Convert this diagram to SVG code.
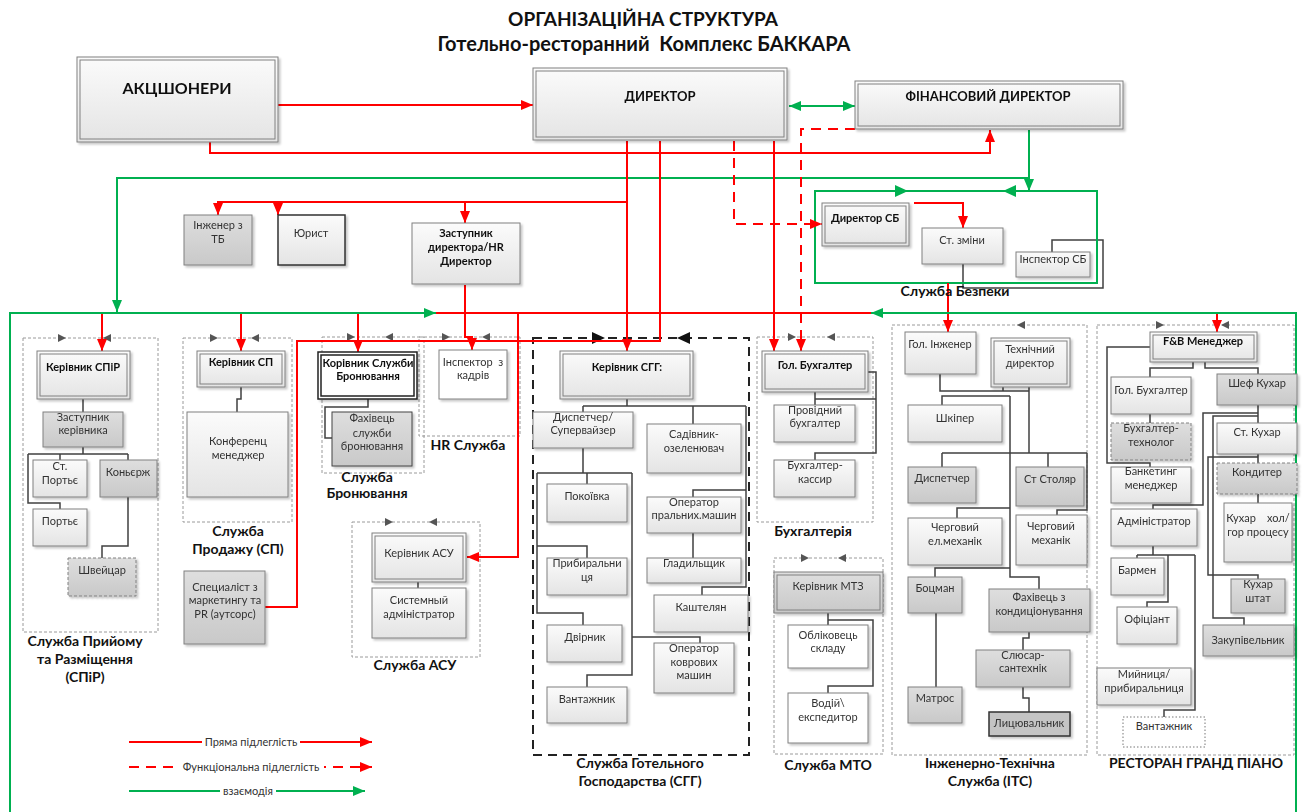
<svg xmlns="http://www.w3.org/2000/svg" width="1302" height="812" viewBox="0 0 1302 812">
<style>
.bg{fill:#fff}
.n{fill:url(#gl);stroke:#808080;stroke-width:1}
.ng{fill:url(#gg);stroke:#808080;stroke-width:1}
.nd{stroke-dasharray:3 2}
.nw{fill:#fff;stroke:#808080;stroke-width:1}
.in{fill:none;stroke:#808080;stroke-width:1}
.t{font-family:Lato,"Liberation Sans",sans-serif;font-size:11px;fill:#333;text-anchor:middle}
.b{font-weight:bold;fill:#111}
.lb{font-family:Lato,"Liberation Sans",sans-serif;font-size:14px;font-weight:bold;fill:#111;text-anchor:middle}
.ttl{font-family:Lato,"Liberation Sans",sans-serif;font-size:19px;font-weight:bold;fill:#111;text-anchor:middle}
.ctr{fill:none;stroke:#9a9a9a;stroke-width:1;stroke-dasharray:3 2}
.ca{fill:#555}
.k{fill:none;stroke:#404040;stroke-width:1.5}
.r{fill:none;stroke:#ff0000;stroke-width:2}
.rd{stroke-dasharray:10 7}
.g{fill:none;stroke:#00b050;stroke-width:2}
.sh{filter:url(#sh)}
</style>
<defs>
<linearGradient id="gl" x1="0" y1="0" x2="0" y2="1"><stop offset="0" stop-color="#fbfbfb"/><stop offset="1" stop-color="#e4e4e4"/></linearGradient>
<linearGradient id="gg" x1="0" y1="0" x2="0" y2="1"><stop offset="0" stop-color="#dedede"/><stop offset="1" stop-color="#c9c9c9"/></linearGradient>
<filter id="sh" x="-10%" y="-10%" width="130%" height="130%"><feDropShadow dx="2" dy="2" stdDeviation="1" flood-color="#000" flood-opacity="0.22"/></filter>
<marker id="ar" markerUnits="userSpaceOnUse" markerWidth="12" markerHeight="10" refX="12" refY="5" orient="auto"><path d="M0,0 L12,5 L0,10 z" fill="#ff0000"/></marker>
<marker id="ag" markerUnits="userSpaceOnUse" markerWidth="12" markerHeight="10" refX="12" refY="5" orient="auto-start-reverse"><path d="M0,0 L12,5 L0,10 z" fill="#00b050"/></marker>
</defs>
<rect class="bg" x="0" y="0" width="1302" height="812"/>

<g id="title">
<text class="ttl" x="643" y="26">ОРГАНІЗАЦІЙНА СТРУКТУРА</text>
<text class="ttl" x="644" y="51" style="font-size:20px" xml:space="preserve">Готельно-ресторанний  Комплекс БАККАРА</text>
</g>

<g id="containers">
<rect class="ctr" x="23" y="338" width="135" height="294"/>
<rect class="ctr" x="183" y="338" width="109" height="184"/>
<rect class="ctr" x="322" y="337" width="102" height="136"/>
<rect class="ctr" x="419" y="337" width="101" height="99"/>
<rect class="ctr" x="352" y="522" width="128" height="135"/>
<rect class="ctr" x="757" y="337" width="116" height="185"/>
<rect class="ctr" x="774" y="558" width="109" height="196"/>
<rect class="ctr" x="892" y="325" width="195" height="430"/>
<rect class="ctr" x="1097" y="325" width="197" height="430"/>
<rect x="533" y="338" width="216" height="417" fill="none" stroke="#222" stroke-width="2" stroke-dasharray="9 6"/>
<g class="ca">
<path d="M66,338 l-8,-4 v8 z M103,338 l8,-4 v8 z"/>
<path d="M218,338 l-8,-4 v8 z M251,338 l8,-4 v8 z"/>
<path d="M355,337 l-8,-4 v8 z M385,337 l8,-4 v8 z"/>
<path d="M450,337 l-8,-4 v8 z M482,337 l8,-4 v8 z"/>
<path d="M393,522 l-8,-4 v8 z M429,522 l8,-4 v8 z"/>
<path d="M796,337 l-8,-4 v8 z M827,337 l8,-4 v8 z"/>
<path d="M809,558 l-8,-4 v8 z M838,558 l8,-4 v8 z"/>
<path d="M1017,325 l8,-4 v8 z"/>
<path d="M1164,325 l-8,-4 v8 z M1221,325 l8,-4 v8 z"/>
</g>
<path d="M605,338 l-13,-6 v12 z M677,338 l13,-6 v12 z" fill="#111"/>
</g>

<g id="connectors">
<path class="k" d="M83,399 V412 M83,447 V454 M28,454 H128 M60,454 V460 M128,454 V460 M28,454 V503 H60 V509 M128,497 V546 H102 V558"/>
<path class="k" d="M241,387 V399 H237 V412"/>
<path class="k" d="M368,399 V407 H325 V438 H332"/>
<path class="k" d="M418,582 V588"/>
<path class="k" d="M627,399 V406 M583,406 H746 M583,406 V412 M693,406 V424 M746,406 V587 H702 V595 M746,490 H693 V497 M693,533 V558"/>
<path class="k" d="M583,448 V473 M537,473 H632 M587,473 V484 M537,473 V613 H583 V625 M537,546 H587 V558 M632,473 V675 H587 V687 M632,637 H700 V643"/>
<path class="k" d="M815,392 V405 M815,399 H876 M868,372 H876 V453 H815 V460"/>
<path class="k" d="M828,613 V625 M828,620 H873 V686 H828 V693"/>
<path class="k" d="M940,374 V391 H1029 M1003,387 V391 M942,405 V396 H1010 M942,453 H1087 M942,453 V467 M1048,453 V467 M1087,453 V510 H1057 V515 M1010,396 V577 H1039 V589 M1010,508 H957 V518 M1010,568 H935 V577 M936,613 V687 M1029,632 V638 H1023 V650 M1023,687 V698 H1029 V712"/>
<path class="k" stroke-width="2.5" d="M1029,387 V453"/>
<path class="k" d="M963,264 V288 H1103 V240 H1052 V252"/>
<path class="k" d="M1150,347 H1107 V463 H1150 V467 M1193,362 V368 H1150 V377 M1205,362 V368 H1258 V374 M1150,414 V423 M1258,405 V423 M1258,413 H1203 V505 H1153 V509 M1258,416 H1213 V618 H1244 V625 M1258,454 V463 M1258,457 H1208 V575 H1258 V579 M1258,494 V503"/>
<path class="k" d="M1153,546 V555 M1137,555 H1195 M1137,555 V558 M1168,555 V602 H1147 V607 M1195,555 V710 H1164 V717"/>

<path class="g" d="M815,191 H1097 V283 H815 Z"/>
<path d="M908,191 l-13,-6 v12 z M1003,191 l13,-6 v12 z" fill="#00b050"/>
<path class="g" d="M1029,130 V191" marker-end="url(#ag)"/>
<path class="g" d="M1029,178 H117 V312" marker-end="url(#ag)"/>
<path class="g" d="M789,106 H855" marker-start="url(#ag)" marker-end="url(#ag)"/>

<path class="r" d="M278,105 H533" marker-end="url(#ar)"/>
<path class="r" d="M210,142 V153 H990 V130" marker-end="url(#ar)"/>
<path class="r" d="M627,141 V351" marker-end="url(#ar)"/>
<path class="r" d="M627,202 H218 V215" marker-end="url(#ar)"/>
<path class="r" d="M278,202 V215" marker-end="url(#ar)"/>
<path class="r" d="M465,202 V223" marker-end="url(#ar)"/>
<path class="r" d="M102,313 H871"/>
<path class="r" d="M871,313 H1217"/>
<path class="r" d="M102,313 V351" marker-end="url(#ar)"/>
<path class="r" d="M241,313 V351" marker-end="url(#ar)"/>
<path class="r" d="M358,313 V352" marker-end="url(#ar)"/>
<path class="r" d="M660,141 V341 H297 V607 H265"/>
<path class="r" d="M518,313 V557 H467" marker-end="url(#ar)"/>
<path class="r" d="M465,285 V337 H472 V350" marker-end="url(#ar)"/>
<path class="r" d="M774,141 V351" marker-end="url(#ar)"/>
<path class="r" d="M948,283 V332" marker-end="url(#ar)"/>
<path class="r" d="M1217,313 V332" marker-end="url(#ar)"/>
<path class="r" d="M914,203 H963 V228" marker-end="url(#ar)"/>
<path class="r rd" d="M734,141 V224 H822" marker-end="url(#ar)"/>
<path class="r rd" d="M855,129 H801 V351" marker-end="url(#ar)"/>

<path class="g" d="M10,812 V313 H436" marker-end="url(#ag)"/>
<path class="g" d="M1296,812 V313 H871" marker-end="url(#ag)"/>
</g>

<g id="n-akc" class="sh"><rect class="n" x="77" y="57" width="201" height="85"/><rect class="in" x="80" y="60" width="195" height="79"/><text class="t b" x="177" y="94" style="font-size:16px">АКЦШОНЕРИ</text></g>
<g id="n-dir" class="sh"><rect class="n" x="533" y="68" width="254" height="72"/><rect class="in" x="536" y="71" width="248" height="66"/><text class="t b" x="660" y="101" style="font-size:13px">ДИРЕКТОР</text></g>
<g id="n-fin" class="sh"><rect class="n" x="855" y="81" width="268" height="48"/><rect class="in" x="858" y="84" width="262" height="42"/><text class="t b" x="988" y="101" style="font-size:13px">ФІНАНСОВИЙ ДИРЕКТОР</text></g>
<g id="n-tb" class="sh"><rect class="ng" x="184" y="215" width="68" height="50"/><text class="t" x="218" y="229">Інженер з</text><text class="t" x="218" y="243">ТБ</text></g>
<g id="n-jur" class="sh"><rect class="n" x="278" y="215" width="67" height="50" style="stroke:#333;stroke-width:1.5"/><text class="t" x="311" y="237">Юрист</text></g>
<g id="n-hr" class="sh"><rect class="n" x="412" y="223" width="108" height="61"/><text class="t b" x="466" y="237">Заступник</text><text class="t b" x="466" y="251">директора/HR</text><text class="t b" x="466" y="265">Директор</text></g>

<g id="n-dsb" class="sh"><rect class="n" x="822" y="203" width="87" height="43"/><rect class="in" x="825" y="206" width="81" height="37"/><text class="t b" x="865" y="222">Директор СБ</text></g>
<g id="n-stz" class="sh"><rect class="n" x="922" y="228" width="81" height="36"/><text class="t" x="962" y="244">Ст. зміни</text></g>
<g id="n-isb" class="sh"><rect class="n" x="1016" y="252" width="74" height="25"/><text class="t" x="1053" y="263">Інспектор СБ</text></g>
<text class="lb" x="955" y="296">Служба Безпеки</text>

<g id="n-kspir" class="sh"><rect class="n" x="37" y="351" width="93" height="48"/><rect class="in" x="40" y="354" width="87" height="42"/><text class="t b" x="83" y="371">Керівник СПіР</text></g>
<g id="n-zast" class="sh"><rect class="ng" x="43" y="412" width="80" height="35"/><text class="t" x="83" y="421">Заступник</text><text class="t" x="83" y="434">керівника</text></g>
<g id="n-stport" class="sh"><rect class="n" x="33" y="460" width="54" height="37"/><text class="t" x="60" y="470">Ст.</text><text class="t" x="60" y="484">Портьє</text></g>
<g id="n-kon" class="sh"><rect class="ng" x="100" y="460" width="57" height="37"/><text class="t" x="128" y="476">Коньєрж</text></g>
<g id="n-port" class="sh"><rect class="n" x="33" y="509" width="54" height="37"/><text class="t" x="60" y="525">Портьє</text></g>
<g id="n-shv" class="sh"><rect class="ng nd" x="68" y="558" width="68" height="38"/><text class="t" x="102" y="574">Швейцар</text></g>
<text class="lb" x="85" y="646">Служба Прийому</text>
<text class="lb" x="85" y="664">та Разміщення</text>
<text class="lb" x="85" y="682">(СПіР)</text>

<g id="n-ksp" class="sh"><rect class="n" x="197" y="351" width="88" height="36"/><rect class="in" x="200" y="354" width="82" height="30"/><text class="t b" x="241" y="366">Керівник СП</text></g>
<g id="n-konf" class="sh"><rect class="n" x="187" y="412" width="101" height="85"/><text class="t" x="238" y="445">Конференц</text><text class="t" x="238" y="459">менеджер</text></g>
<text class="lb" x="238" y="536">Служба</text>
<text class="lb" x="238" y="554">Продажу (СП)</text>
<g id="n-mark" class="sh"><rect class="ng" x="184" y="571" width="81" height="73"/><text class="t" x="225" y="591">Специаліст з</text><text class="t" x="225" y="604">маркетингу та</text><text class="t" x="225" y="618">PR (аутсорс)</text></g>

<g id="n-kbron" class="sh"><rect x="318" y="352" width="99" height="47" fill="#fff" stroke="#222" stroke-width="1.5"/><rect x="321" y="355" width="93" height="41" fill="none" stroke="#222" stroke-width="1.5"/><text class="t b" x="368" y="367">Корівник Служби</text><text class="t b" x="368" y="380">Бронювання</text></g>
<g id="n-fbron" class="sh"><rect class="ng" x="332" y="412" width="80" height="54" style="stroke:#444"/><text class="t" x="372" y="422">Фахівець</text><text class="t" x="372" y="437">служби</text><text class="t" x="372" y="450">бронювання</text></g>
<text class="lb" x="367" y="482">Служба</text>
<text class="lb" x="367" y="498">Бронювання</text>
<g id="n-ink" class="sh"><rect class="nw" x="439" y="350" width="68" height="49"/><text class="t" x="473" y="366" xml:space="preserve">Інспектор  з</text><text class="t" x="473" y="379">кадрів</text></g>
<text class="lb" x="468" y="450">HR Служба</text>

<g id="n-kasu" class="sh"><rect class="n" x="372" y="533" width="94" height="49"/><rect class="in" x="375" y="536" width="88" height="43"/><text class="t" x="419" y="557">Керівник АСУ</text></g>
<g id="n-sysadm" class="sh"><rect class="n" x="372" y="588" width="94" height="50"/><text class="t" x="419" y="604">Системный</text><text class="t" x="419" y="618">адміністратор</text></g>
<text class="lb" x="415" y="670">Служба АСУ</text>

<g id="n-ksgg" class="sh"><rect class="n" x="560" y="351" width="133" height="48"/><rect class="in" x="563" y="354" width="127" height="42"/><text class="t b" x="627" y="371">Керівник СГГ:</text></g>
<g id="n-disp" class="sh"><rect class="n" x="533" y="412" width="100" height="36"/><text class="t" x="583" y="421">Диспетчер/</text><text class="t" x="583" y="434">Супервайзер</text></g>
<g id="n-sad" class="sh"><rect class="n" x="647" y="424" width="94" height="49"/><text class="t" x="694" y="438">Садівник-</text><text class="t" x="694" y="452">озеленювач</text></g>
<g id="n-pok" class="sh"><rect class="n" x="547" y="484" width="80" height="38"/><text class="t" x="587" y="500">Покоївка</text></g>
<g id="n-prib" class="sh"><rect class="n" x="547" y="558" width="80" height="37"/><text class="t" x="587" y="567">Прибиральни</text><text class="t" x="587" y="581">ця</text></g>
<g id="n-dvir" class="sh"><rect class="n" x="547" y="625" width="75" height="37"/><text class="t" x="585" y="641">Двірник</text></g>
<g id="n-vant1" class="sh"><rect class="n" x="547" y="687" width="80" height="36"/><text class="t" x="587" y="703">Вантажник</text></g>
<g id="n-opral" class="sh"><rect class="n" x="647" y="497" width="94" height="36"/><text class="t" x="694" y="506">Оператор</text><text class="t" x="694" y="519">пральних.машин</text></g>
<g id="n-glad" class="sh"><rect class="n" x="647" y="558" width="94" height="25"/><text class="t" x="694" y="567">Гладильщик</text></g>
<g id="n-kasht" class="sh"><rect class="n" x="654" y="595" width="94" height="37"/><text class="t" x="701" y="611">Каштелян</text></g>
<g id="n-okov" class="sh"><rect class="n" x="654" y="643" width="80" height="50"/><text class="t" x="694" y="652">Оператор</text><text class="t" x="694" y="666">коврових</text><text class="t" x="694" y="679">машин</text></g>
<text class="lb" x="640" y="768">Служба Готельного</text>
<text class="lb" x="640" y="786">Господарства (СГГ)</text>

<g id="n-gbuh" class="sh"><rect class="n" x="762" y="351" width="106" height="41"/><rect class="in" x="765" y="354" width="100" height="35"/><text class="t b" x="815" y="369">Гол. Бухгалтер</text></g>
<g id="n-pbuh" class="sh"><rect class="n" x="774" y="405" width="81" height="37"/><text class="t" x="815" y="414">Провідний</text><text class="t" x="815" y="427">бухгалтер</text></g>
<g id="n-bkas" class="sh"><rect class="n" x="774" y="460" width="81" height="37"/><text class="t" x="815" y="469">Бухгалтер-</text><text class="t" x="815" y="483">кассир</text></g>
<text class="lb" x="813" y="536">Бухгалтерія</text>

<g id="n-kmtz" class="sh"><rect class="n" x="774" y="572" width="109" height="41" style="fill:url(#gg)"/><rect class="in" x="777" y="575" width="103" height="35"/><text class="t" x="828" y="590">Керівник МТЗ</text></g>
<g id="n-obl" class="sh"><rect class="nw" x="788" y="625" width="80" height="43"/><text class="t" x="828" y="639">Обліковець</text><text class="t" x="828" y="652">складу</text></g>
<g id="n-vod" class="sh"><rect class="nw" x="788" y="693" width="80" height="50"/><text class="t" x="828" y="707">Водій\</text><text class="t" x="828" y="721">експедитор</text></g>
<text class="lb" x="828" y="770">Служба МТО</text>

<g id="n-ging" class="sh"><rect class="n" x="905" y="332" width="71" height="42"/><text class="t" x="940" y="348">Гол. Інженер</text></g>
<g id="n-tdir" class="sh"><rect class="n" x="991" y="338" width="79" height="49"/><rect class="in" x="994" y="341" width="73" height="43"/><text class="t" x="1030" y="353">Технічний</text><text class="t" x="1030" y="367">директор</text></g>
<g id="n-shkip" class="sh"><rect class="n" x="908" y="405" width="94" height="37"/><text class="t" x="955" y="422">Шкіпер</text></g>
<g id="n-disp2" class="sh"><rect class="ng" x="908" y="467" width="68" height="36"/><text class="t" x="942" y="482">Диспетчер</text></g>
<g id="n-stol" class="sh"><rect class="ng" x="1016" y="467" width="68" height="39"/><text class="t" x="1050" y="483">Ст Столяр</text></g>
<g id="n-cherel" class="sh"><rect class="n" x="908" y="518" width="94" height="47"/><text class="t" x="955" y="531">Черговий</text><text class="t" x="955" y="545">ел.механік</text></g>
<g id="n-chmeh" class="sh"><rect class="n" x="1016" y="515" width="71" height="50"/><text class="t" x="1051" y="530">Черговий</text><text class="t" x="1051" y="544">механік</text></g>
<g id="n-bots" class="sh"><rect class="ng" x="908" y="577" width="54" height="36"/><text class="t" x="935" y="592">Боцман</text></g>
<g id="n-kond" class="sh"><rect class="ng" x="989" y="589" width="101" height="43"/><text class="t" x="1039" y="601">Фахівець з</text><text class="t" x="1039" y="615">кондиціонування</text></g>
<g id="n-slus" class="sh"><rect class="ng" x="976" y="650" width="94" height="37"/><text class="t" x="1023" y="659">Слюсар-</text><text class="t" x="1023" y="672">сантехнік</text></g>
<g id="n-matr" class="sh"><rect class="ng" x="908" y="687" width="54" height="36"/><text class="t" x="935" y="702">Матрос</text></g>
<g id="n-lyts" class="sh"><rect x="989" y="712" width="81" height="24" fill="#c4c4c4" stroke="#333" stroke-width="1.5"/><text class="t" x="1029" y="727">Лицювальник</text></g>
<text class="lb" x="990" y="768">Інженерно-Технічна</text>
<text class="lb" x="990" y="786">Служба (ІТС)</text>

<g id="n-fb" class="sh"><rect class="n" x="1150" y="332" width="107" height="30"/><rect class="in" x="1153" y="335" width="101" height="24"/><text class="t b" x="1203" y="345">F&amp;B Менеджер</text></g>
<g id="n-gbuh2" class="sh"><rect class="n" x="1111" y="377" width="80" height="37"/><text class="t" x="1151" y="394">Гол. Бухгалтер</text></g>
<g id="n-btech" class="sh"><rect class="ng nd" x="1111" y="423" width="80" height="37"/><text class="t" x="1151" y="432">Бухгалтер-</text><text class="t" x="1151" y="446">технолог</text></g>
<g id="n-bank" class="sh"><rect class="n" x="1111" y="467" width="80" height="36"/><text class="t" x="1151" y="475">Банкетинг</text><text class="t" x="1151" y="489">менеджер</text></g>
<g id="n-adm" class="sh"><rect class="n" x="1111" y="509" width="86" height="37"/><text class="t" x="1154" y="525">Адміністратор</text></g>
<g id="n-barm" class="sh"><rect class="n" x="1111" y="558" width="53" height="37"/><text class="t" x="1137" y="574">Бармен</text></g>
<g id="n-ofic" class="sh"><rect class="n" x="1117" y="607" width="60" height="37"/><text class="t" x="1147" y="623">Офіціант</text></g>
<g id="n-myin" class="sh"><rect class="n" x="1097" y="668" width="94" height="37"/><text class="t" x="1144" y="678">Мийниця/</text><text class="t" x="1144" y="692">прибиральниця</text></g>
<g id="n-vant2"><rect x="1123" y="717" width="82" height="30" fill="#fff" stroke="#777" stroke-width="1" stroke-dasharray="1.5 2"/><text class="t" x="1164" y="730">Вантажник</text></g>
<g id="n-shef" class="sh"><rect class="ng" x="1217" y="374" width="80" height="31"/><text class="t" x="1257" y="387">Шеф Кухар</text></g>
<g id="n-stkuh" class="sh"><rect class="n" x="1217" y="423" width="80" height="31"/><text class="t" x="1257" y="436">Ст. Кухар</text></g>
<g id="n-kondyt" class="sh"><rect class="ng nd" x="1217" y="463" width="80" height="31"/><text class="t" x="1257" y="476">Кондитер</text></g>
<g id="n-khol" class="sh"><rect class="n" x="1224" y="503" width="68" height="59"/><text class="t" x="1258" y="522" xml:space="preserve">Кухар    хол/</text><text class="t" x="1258" y="536">гор процесу</text></g>
<g id="n-kshtat" class="sh"><rect class="ng" x="1231" y="579" width="54" height="34"/><text class="t" x="1258" y="588">Кухар</text><text class="t" x="1258" y="602">штат</text></g>
<g id="n-zakup" class="sh"><rect class="ng" x="1203" y="625" width="91" height="31"/><text class="t" x="1248" y="644">Закупівельник</text></g>
<text class="lb" x="1196" y="768">РЕСТОРАН ГРАНД ПІАНО</text>

<g id="legend">
<path class="r" d="M129,742 H372" marker-end="url(#ar)"/>
<path class="r rd" d="M129,767 H372" marker-end="url(#ar)"/>
<path class="g" d="M129,791 H365" marker-end="url(#ag)"/>
<rect x="202" y="735" width="98" height="14" fill="#fff"/>
<rect x="178" y="760" width="146" height="14" fill="#fff"/>
<rect x="220" y="784" width="56" height="14" fill="#fff"/>
<text class="t" x="251" y="746">Пряма підлеглість</text>
<text class="t" x="251" y="771">Функціональна підлеглість</text>
<text class="t" x="248" y="795">взаємодія</text>
</g>
</svg>
